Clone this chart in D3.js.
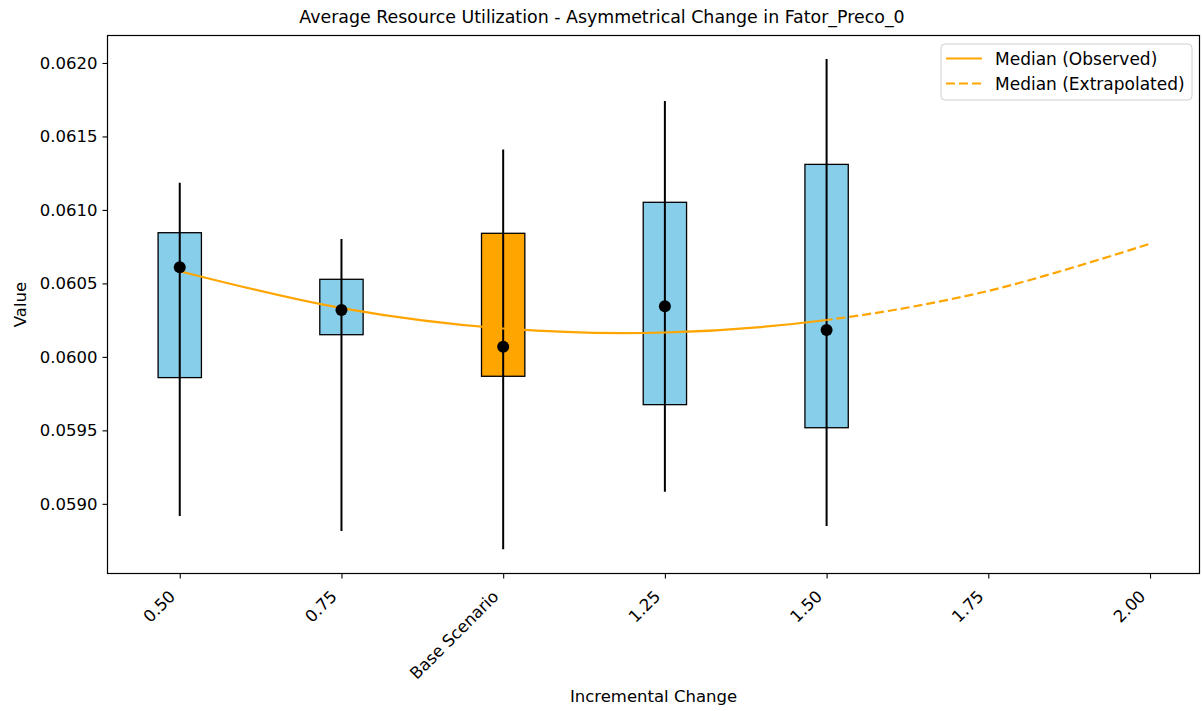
<!DOCTYPE html>
<html>
<head>
<meta charset="utf-8">
<script src="https://cdn.jsdelivr.net/npm/d3@7"></script>
<style>
  html, body { margin: 0; padding: 0; background: #ffffff; }
  svg { display: block; font-family: "DejaVu Sans", sans-serif; }
</style>
</head>
<body>
<svg id="chart" width="1202" height="711"></svg>
<script>
// Scenario positions and labels
const positions = [0.5, 0.75, 1.0, 1.25, 1.5];
const categories = ["0.50", "0.75", "Base Scenario", "1.25", "1.50"];
const baseIndex = 2;

// Distribution summary per scenario
const q1 = [0.059859, 0.060151, 0.059868, 0.059675, 0.059518];
const q3 = [0.060845, 0.060528, 0.060841, 0.061052, 0.061310];
const whiskerLow = [0.058918, 0.058816, 0.058691, 0.059083, 0.058850];
const whiskerHigh = [0.061185, 0.060802, 0.061412, 0.061741, 0.062027];
const medians = [0.060610, 0.060319, 0.060069, 0.060344, 0.060183];

// Median trend: observed range then extrapolated range
const trendX = [0.5, 0.75, 1.0, 1.25, 1.5, 1.75, 2.0];
const trendY = [0.060583, 0.060332, 0.060193, 0.060166, 0.060251, 0.060449, 0.060770];
const observedEnd = 1.5;

// Axis ticks
const xTickValues = [0.5, 0.75, 1.0, 1.25, 1.5, 1.75, 2.0];
const xTickLabels = ["0.50", "0.75", "Base Scenario", "1.25", "1.50", "1.75", "2.00"];
const yTickValues = [0.0590, 0.0595, 0.0600, 0.0605, 0.0610, 0.0615, 0.0620];

const boxWidth = 0.067;
const fontSize = 16.5;

const svg = d3.select("#chart");
const plot = { left: 107.5, right: 1199.5, top: 35.5, bottom: 573.5 };

const x = d3.scaleLinear().domain([0.3883, 2.0765]).range([plot.left, plot.right]);
const y = d3.scaleLinear().domain([0.058526, 0.062187]).range([plot.bottom, plot.top]);

const defs = svg.append("defs");
defs.append("clipPath").attr("id", "clip-plot")
  .append("rect").attr("x", plot.left).attr("y", plot.top)
  .attr("width", plot.right - plot.left).attr("height", plot.bottom - plot.top);
defs.append("clipPath").attr("id", "clip-observed")
  .append("rect").attr("x", plot.left).attr("y", plot.top)
  .attr("width", x(observedEnd) - plot.left).attr("height", plot.bottom - plot.top);
defs.append("clipPath").attr("id", "clip-extrapolated")
  .append("rect").attr("x", x(observedEnd)).attr("y", plot.top)
  .attr("width", plot.right - x(observedEnd)).attr("height", plot.bottom - plot.top);

const g = svg.append("g").attr("clip-path", "url(#clip-plot)");

// Interquartile boxes
g.selectAll("rect.box")
  .data(positions)
  .join("rect")
  .attr("class", "box")
  .attr("x", d => x(d - boxWidth / 2))
  .attr("width", d => x(d + boxWidth / 2) - x(d - boxWidth / 2))
  .attr("y", (d, i) => y(q3[i]))
  .attr("height", (d, i) => y(q1[i]) - y(q3[i]))
  .attr("fill", (d, i) => i === baseIndex ? "#FFA500" : "#87CEEB")
  .attr("stroke", "#000")
  .attr("stroke-width", 1.3);

// Whiskers
g.selectAll("line.whisker")
  .data(positions)
  .join("line")
  .attr("class", "whisker")
  .attr("x1", d => x(d)).attr("x2", d => x(d))
  .attr("y1", (d, i) => y(whiskerLow[i]))
  .attr("y2", (d, i) => y(whiskerHigh[i]))
  .attr("stroke", "#000")
  .attr("stroke-width", 2);

// Median trend curve
const trendPts = trendX.map((t, i) => [t, trendY[i]]);
const trendLine = d3.line()
  .x(d => x(d[0])).y(d => y(d[1]))
  .curve(d3.curveCatmullRom.alpha(0.5));

g.append("path")
  .attr("d", trendLine(trendPts))
  .attr("clip-path", "url(#clip-observed)")
  .attr("fill", "none")
  .attr("stroke", "#FFA500")
  .attr("stroke-width", 2.2);

g.append("path")
  .attr("d", trendLine(trendPts))
  .attr("clip-path", "url(#clip-extrapolated)")
  .attr("fill", "none")
  .attr("stroke", "#FFA500")
  .attr("stroke-width", 2.2)
  .attr("stroke-dasharray", "9,4");

// Median markers
g.selectAll("circle.median")
  .data(positions)
  .join("circle")
  .attr("class", "median")
  .attr("cx", d => x(d))
  .attr("cy", (d, i) => y(medians[i]))
  .attr("r", 6)
  .attr("fill", "#000");

// Frame
svg.append("rect")
  .attr("x", plot.left).attr("y", plot.top)
  .attr("width", plot.right - plot.left).attr("height", plot.bottom - plot.top)
  .attr("fill", "none").attr("stroke", "#000").attr("stroke-width", 1.2);

// Y axis
const yAxis = d3.axisLeft(y)
  .tickValues(yTickValues)
  .tickFormat(d3.format(".4f"))
  .tickSize(5)
  .tickPadding(5);
const yg = svg.append("g").attr("transform", `translate(${plot.left},0)`).call(yAxis);
yg.select(".domain").remove();
yg.selectAll("text").attr("font-size", fontSize).attr("fill", "#000").attr("font-family", "DejaVu Sans");
yg.selectAll("line").attr("stroke", "#000").attr("stroke-width", 1.1);

// X axis with rotated labels
const xAxis = d3.axisBottom(x)
  .tickValues(xTickValues)
  .tickFormat((d, i) => xTickLabels[i])
  .tickSize(5);
const xg = svg.append("g").attr("transform", `translate(0,${plot.bottom})`).call(xAxis);
xg.select(".domain").remove();
xg.selectAll("line").attr("stroke", "#000").attr("stroke-width", 1.1);
xg.selectAll("text")
  .attr("font-size", fontSize)
  .attr("fill", "#000")
  .attr("font-family", "DejaVu Sans")
  .attr("text-anchor", "end")
  .attr("dy", null)
  .attr("y", null)
  .attr("transform", "translate(-4,24) rotate(-45)");

// Title and axis labels
svg.append("text")
  .attr("x", 602).attr("y", 23)
  .attr("text-anchor", "middle")
  .attr("font-size", 17.4)
  .attr("fill", "#000")
  .text("Average Resource Utilization - Asymmetrical Change in Fator_Preco_0");

svg.append("text")
  .attr("x", (plot.left + plot.right) / 2).attr("y", 702)
  .attr("text-anchor", "middle")
  .attr("font-size", fontSize)
  .attr("fill", "#000")
  .text("Incremental Change");

svg.append("text")
  .attr("transform", `translate(26,${(plot.top + plot.bottom) / 2}) rotate(-90)`)
  .attr("text-anchor", "middle")
  .attr("font-size", fontSize)
  .attr("fill", "#000")
  .text("Value");

// Legend
const legendItems = [
  { label: "Median (Observed)", dash: null },
  { label: "Median (Extrapolated)", dash: "9,4" }
];
const lg = svg.append("g").attr("transform", "translate(941,44)");
lg.append("rect")
  .attr("width", 251).attr("height", 56)
  .attr("rx", 4).attr("ry", 4)
  .attr("fill", "#ffffff").attr("fill-opacity", 0.8)
  .attr("stroke", "#d0d0d0").attr("stroke-width", 1);
legendItems.forEach((item, i) => {
  const cy = 14.5 + i * 25;
  lg.append("line")
    .attr("x1", 5).attr("x2", 41).attr("y1", cy).attr("y2", cy)
    .attr("stroke", "#FFA500").attr("stroke-width", 2.2)
    .attr("stroke-dasharray", item.dash);
  lg.append("text")
    .attr("x", 54).attr("y", cy + 6)
    .attr("font-size", 17)
    .attr("fill", "#000")
    .text(item.label);
});
</script>
</body>
</html>
